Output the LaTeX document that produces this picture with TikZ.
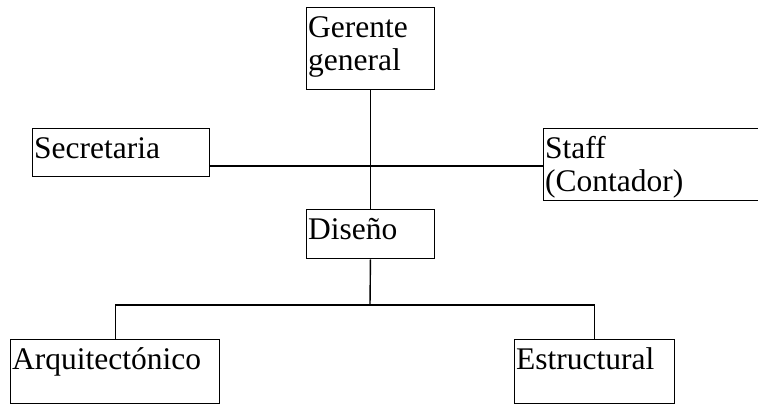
\documentclass[tikz,border=0pt]{standalone}
\usepackage{fontspec}
\setmainfont{Liberation Serif}
\begin{document}
\begin{tikzpicture}[x=1pt,y=-1pt,
	caja/.style={draw,line width=1.4pt,anchor=north west,inner sep=1.5pt,align=left,
		font=\fontsize{31.5}{33}\selectfont,text height=28pt},
	linea/.style={line width=1.4pt}]
	\clip (0,0) rectangle (758,404);
	\node[caja,text width=125pt,text depth=51pt] (gerente) at (306,7) {Gerente\\general};
	\node[caja,text width=174pt,text depth=17pt] (secretaria) at (32,128) {Secretaria};
	\node[caja,text width=217pt,text depth=41pt] (staff) at (543,128) {Staff\\(Contador)};
	\node[caja,text width=125pt,text depth=18pt] (diseno) at (306,209) {Diseño};
	\node[caja,text width=206pt,text depth=33pt] (arq) at (10,339) {Arquitectónico};
	\node[caja,text width=157pt,text depth=33pt] (estr) at (514,339) {Estructural};
	\coordinate (cruce) at (370,166);
	\coordinate (rama) at (370,305);
	\draw[linea] (gerente) -- (diseno);
	\draw[linea] (secretaria.east |- cruce) -- (staff.west |- cruce);
	\draw[linea] (diseno) -- (rama);
	\draw[linea] (arq) |- (rama) -| (estr);
\end{tikzpicture}
\end{document}
